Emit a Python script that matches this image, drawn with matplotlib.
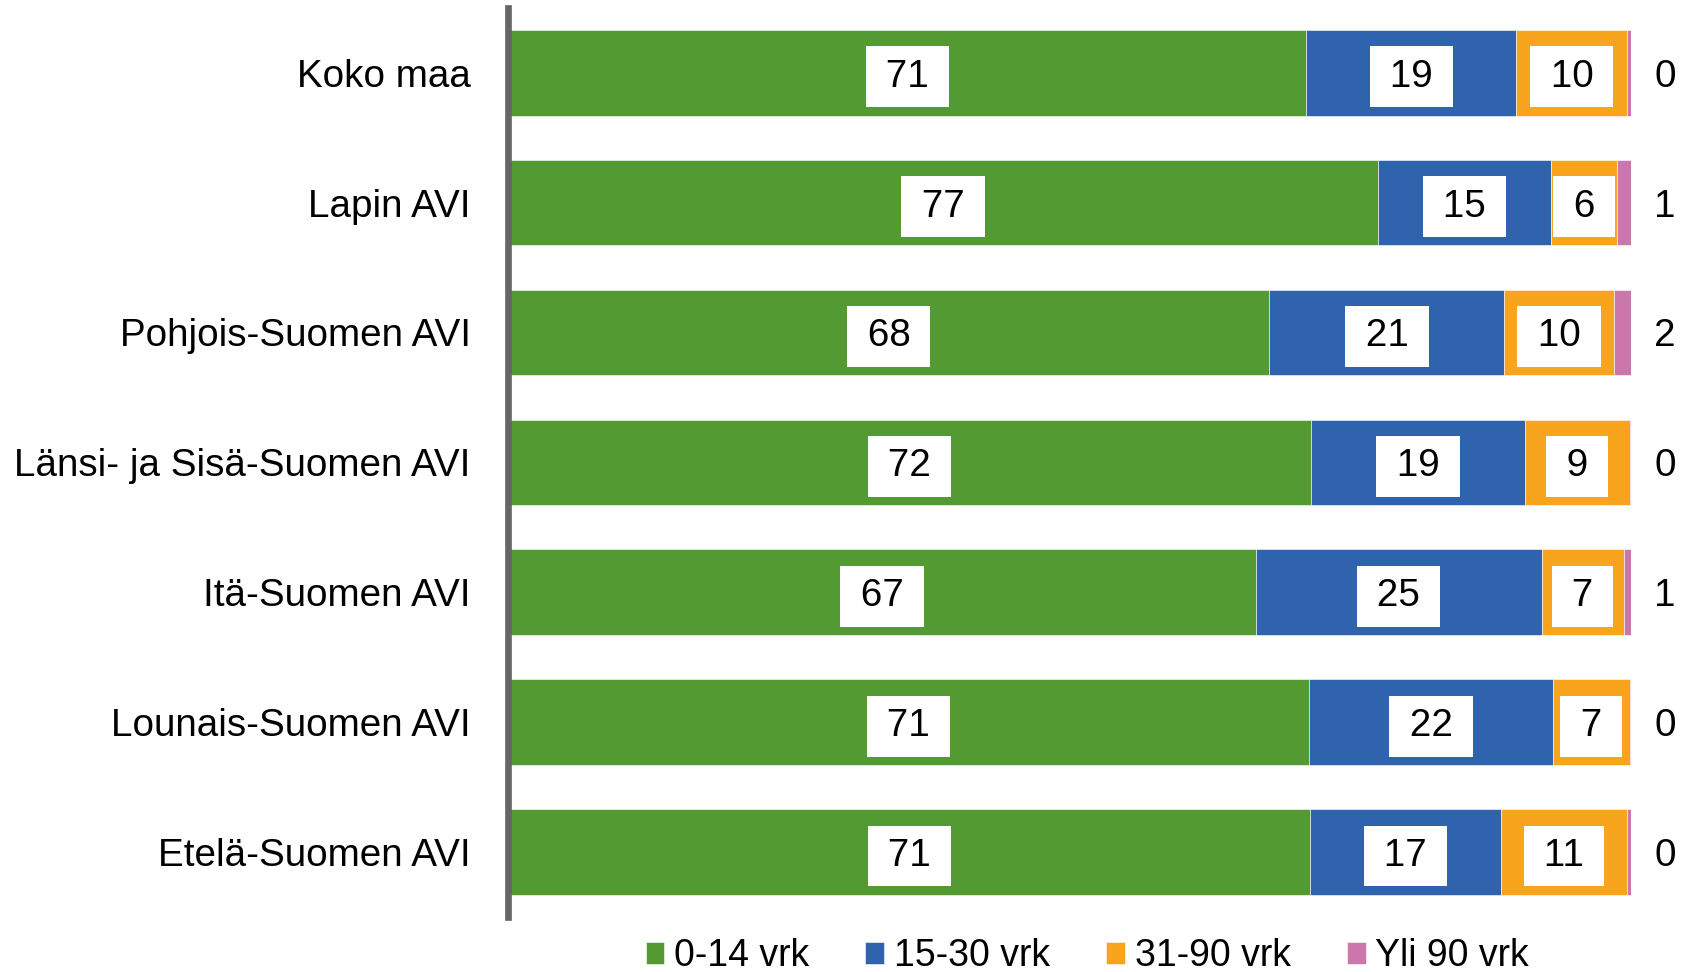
import numpy as np
import matplotlib.pyplot as plt

plt.rcParams["font.family"] = ["Liberation Sans", "DejaVu Sans"]

# Data (share of cases by processing time, %)
regions = [
    "Koko maa",
    "Lapin AVI",
    "Pohjois-Suomen AVI",
    "Länsi- ja Sisä-Suomen AVI",
    "Itä-Suomen AVI",
    "Lounais-Suomen AVI",
    "Etelä-Suomen AVI",
]
d_0_14 = [71.06, 77.46, 67.81, 71.54, 66.6, 71.35, 71.44]
d_15_30 = [18.74, 15.47, 20.92, 19.0, 25.45, 21.68, 17.0]
d_31_90 = [9.9, 5.83, 9.74, 9.36, 7.3, 6.87, 11.2]
d_over_90 = [0.3, 1.24, 1.53, 0.1, 0.65, 0.1, 0.36]

series = [d_0_14, d_15_30, d_31_90, d_over_90]
names = ["0-14 vrk", "15-30 vrk", "31-90 vrk", "Yli 90 vrk"]
colors = ["#539a32", "#3063ad", "#f8a51d", "#cc77ac"]

fig = plt.figure(figsize=(16.83, 9.72), dpi=100)
ax = fig.add_axes([0.302, 0.0566, 0.667, 0.9354])

y = np.arange(len(regions))
left = np.zeros(len(regions))
for vals, name, col in zip(series, names, colors):
    vals = np.array(vals)
    ax.barh(y, vals, left=left, height=0.66, color=col, label=name,
            edgecolor="white", linewidth=0.4, zorder=2)
    if name != "Yli 90 vrk":
        for i in range(len(regions)):
            ax.text(left[i] + vals[i] / 2, y[i], "\u2009%d\u2009" % round(vals[i]),
                    ha="center", va="center_baseline", fontsize=27.8, zorder=4,
                    bbox=dict(boxstyle="square,pad=0.32", fc="white", ec="none"))
    else:
        # small shares are labelled outside the bar
        for i in range(len(regions)):
            ax.text(102.1, y[i], "%d" % round(vals[i]),
                    ha="left", va="center_baseline", fontsize=27.8, clip_on=False)
    left = left + vals

ax.set_xlim(0, 100)
ax.set_ylim(len(regions) - 0.5, -0.5)
ax.set_yticks(y)
ax.set_yticklabels(regions, fontsize=27.8)
ax.tick_params(axis="y", length=0, pad=27)
ax.set_xticks([])

for s in ["top", "right", "bottom"]:
    ax.spines[s].set_visible(False)
ax.spines["left"].set_color("#666666")
ax.spines["left"].set_linewidth(4.8)
ax.spines["left"].set_zorder(5)

fig.legend(loc="center", bbox_to_anchor=(0.646, 0.016), ncol=4, frameon=False,
           fontsize=27, handlelength=0.5, handleheight=0.5,
           handletextpad=0.26, columnspacing=1.5, borderaxespad=0)

plt.savefig("out.png", dpi=100)
